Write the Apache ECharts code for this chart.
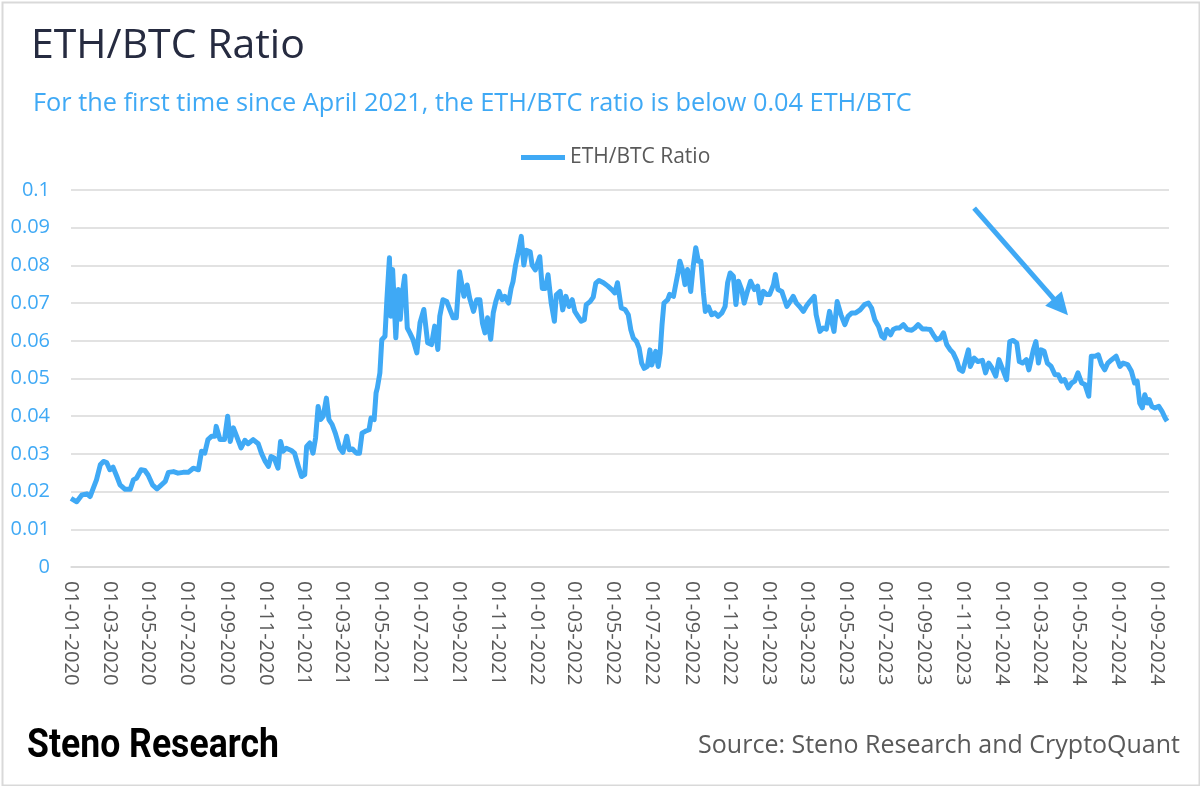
<!DOCTYPE html>
<html>
<head>
<meta charset="utf-8">
<script src="https://cdn.jsdelivr.net/npm/echarts@6/dist/echarts.min.js"></script>
<style>
  html, body { margin: 0; padding: 0; background: #ffffff; }
  #chart { width: 1200px; height: 786px; }
</style>
</head>
<body>
<div id="chart"></div>
<script>
// ---- data (day offset from 01-01-2020, ETH/BTC ratio) ----
const startDate = '2020-01-01';
const seriesName = 'ETH/BTC Ratio';
const ratioPoints = [
  [0,0.0182],[9,0.0173],[17,0.0191],[25,0.0194],[30,0.0187],[35,0.0209],[40,0.0231],[46,0.0271],[51,0.0280],[56,0.0277],
  [61,0.0258],[66,0.0265],[72,0.0240],[77,0.0218],[85,0.0206],[93,0.0206],[98,0.0231],[103,0.0236],[110,0.0258],[116,0.0256],
  [121,0.0244],[128,0.0218],[135,0.0207],[142,0.0218],[148,0.0227],[153,0.0251],[161,0.0253],[168,0.0249],[176,0.0251],[184,0.0251],
  [192,0.0262],[200,0.0258],[205,0.0307],[210,0.0302],[215,0.0338],[221,0.0347],[226,0.0347],[228,0.0373],[234,0.0338],[241,0.0338],
  [246,0.0400],[250,0.0333],[255,0.0369],[260,0.0347],[267,0.0316],[273,0.0336],
  [278,0.0327],[286,0.0338],[294,0.0327],[299,0.0302],[305,0.0280],[310,0.0267],[314,0.0293],[319,0.0289],[325,0.0262],[329,0.0333],
  [333,0.0307],[338,0.0315],[346,0.0309],[351,0.0302],[357,0.0267],[362,0.0240],[367,0.0245],[370,0.0320],[375,0.0329],[380,0.0302],
  [384,0.0342],[388,0.0426],[392,0.0391],[396,0.0400],[401,0.0448],[405,0.0391],[410,0.0378],[415,0.0355],[422,0.0315],[427,0.0304],
  [433,0.0347],[437,0.0311],[442,0.0313],[448,0.0302],[453,0.0302],[457,0.0355],[462,0.0360],[468,0.0364],[471,0.0395],[476,0.0391],
  [479,0.0462],[481,0.0475],[485,0.0515],[488,0.0603],[493,0.0612],[496,0.0710],[500,0.0820],[502,0.0665],[505,0.0789],[508,0.0683],
  [510,0.0608],[514,0.0736],[517,0.0657],[520,0.0723],[524,0.0772],[528,0.0634],[532,0.0621],[537,0.0603],[543,0.0568],[548,0.0648],
  [554,0.0683],
  [560,0.0595],[566,0.0590],[571,0.0639],[576,0.0577],[579,0.0665],[584,0.0709],[590,0.0704],[595,0.0682],[600,0.0661],[605,0.0661],
  [610,0.0783],[613,0.0779],[617,0.0718],[622,0.0748],[626,0.0713],[632,0.0678],[637,0.0709],[642,0.0709],[646,0.0647],[650,0.0621],
  [654,0.0661],[659,0.0604],[663,0.0674],[667,0.0704],[672,0.0731],[677,0.0709],[681,0.0718],[687,0.0700],[691,0.0739],[694,0.0757],
  [698,0.0801],[702,0.0832],[707,0.0877],[711,0.0801],[715,0.0840],[721,0.0836],[724,0.0801],[729,0.0788],[736,0.0823],[740,0.0739],
  [745,0.0739],[749,0.0775],[754,0.0700],[759,0.0652],[762,0.0722],[768,0.0731],[772,0.0682],[777,0.0718],[782,0.0691],[787,0.0709],
  [791,0.0678],[796,0.0665],[801,0.0652],[806,0.0656],[809,0.0696],[815,0.0704],[820,0.0716],[824,0.0753],[829,0.0760],[836,0.0754],
  [843,0.0745],[849,0.0736],[854,0.0727],[858,0.0754],[861,0.0755],[864,0.0687],[870,0.0683],[875,0.0669],[879,0.0629],[883,0.0607],
  [888,0.0598],[892,0.0581],[896,0.0541],[900,0.0527],[905,0.0532],[909,0.0576],[912,0.0536],[918,0.0572],[922,0.0532],[925,0.0567],
  [928,0.0643],[931,0.0700],[937,0.0709],[940,0.0723],[946,0.0718],[949,0.0745],[953,0.0780],[956,0.0811],[960,0.0789],[964,0.0749],
  [968,0.0789],[973,0.0731],[977,0.0798],[981,0.0847],[985,0.0811],[989,0.0811],[993,0.0727],[996,0.0678],[1001,0.0690],[1006,0.0669],
  [1011,0.0674],[1016,0.0665],[1022,0.0674],[1027,0.0691],[1031,0.0754],[1035,0.0780],[1040,0.0771],[1044,0.0696],[1048,0.0758],[1053,0.0736],
  [1057,0.0700],[1062,0.0731],[1067,0.0758],[1073,0.0736],[1078,0.0745],[1082,0.0700],[1087,0.0731],[1092,0.0723],[1097,0.0723],[1103,0.0749],
  [1106,0.0776],[1110,0.0736],[1116,0.0731],
  [1124,0.0691],[1129,0.0704],[1134,0.0718],[1139,0.0700],[1144,0.0691],[1150,0.0678],[1155,0.0693],[1160,0.0704],[1167,0.0718],[1170,0.0669],
  [1176,0.0625],[1181,0.0634],[1186,0.0631],[1191,0.0678],[1198,0.0625],[1203,0.0704],[1209,0.0669],[1215,0.0643],[1220,0.0665],[1226,0.0674],
  [1232,0.0674],[1239,0.0682],[1246,0.0696],[1252,0.0700],[1257,0.0687],[1262,0.0656],[1268,0.0638],[1273,0.0612],[1277,0.0607],[1281,0.0630],
  [1287,0.0616],[1291,0.0630],[1296,0.0634],[1301,0.0634],[1307,0.0643],[1313,0.0630],[1320,0.0628],[1325,0.0634],[1330,0.0643],[1337,0.0631],
  [1344,0.0631],[1349,0.0630],[1354,0.0616],[1359,0.0603],[1365,0.0607],[1370,0.0621],[1375,0.0590],[1380,0.0577],[1385,0.0568],[1391,0.0546],
  [1395,0.0524],[1400,0.0519],
  [1409,0.0576],[1412,0.0532],[1418,0.0554],[1424,0.0545],[1431,0.0548],[1436,0.0515],[1441,0.0541],[1446,0.0528],[1452,0.0506],[1457,0.0550],
  [1462,0.0528],[1469,0.0497],[1474,0.0598],[1479,0.0601],[1485,0.0594],[1489,0.0545],[1494,0.0541],[1500,0.0550],[1504,0.0523],[1511,0.0576],
  [1515,0.0598],[1519,0.0541],[1523,0.0576],[1528,0.0572],[1533,0.0541],[1539,0.0532],[1545,0.0510],[1550,0.0510],[1555,0.0493],[1560,0.0497],
  [1566,0.0475],[1571,0.0488],[1576,0.0493],[1581,0.0515],[1587,0.0488],[1592,0.0484],[1598,0.0453],[1602,0.0559],[1608,0.0559],[1613,0.0563],
  [1618,0.0537],[1623,0.0523],[1628,0.0541],[1634,0.0550],[1641,0.0559],[1647,0.0532],[1652,0.0541],[1659,0.0537],[1665,0.0519],[1670,0.0488],
  [1674,0.0493],[1678,0.0435],[1682,0.0422],[1686,0.0457],[1690,0.0435],[1693,0.0444],[1697,0.0426],[1702,0.0422],[1708,0.0426],[1713,0.0413],
  [1718,0.0395],[1721,0.0387]
];
const xTickLabels = [
  '01-01-2020','01-03-2020','01-05-2020','01-07-2020','01-09-2020','01-11-2020',
  '01-01-2021','01-03-2021','01-05-2021','01-07-2021','01-09-2021','01-11-2021',
  '01-01-2022','01-03-2022','01-05-2022','01-07-2022','01-09-2022','01-11-2022',
  '01-01-2023','01-03-2023','01-05-2023','01-07-2023','01-09-2023','01-11-2023',
  '01-01-2024','01-03-2024','01-05-2024','01-07-2024','01-09-2024'
];
const xAxisEndDay = 1724;
// arrow annotation: [day, value] start and end
const arrowStart = [1418, 0.0952];
const arrowEnd = [1554, 0.0690];

// ---- build ----
const DAY = 86400000;
const t0 = Date.parse(startDate + 'T00:00:00Z');
function labelToDay(s) {
  const p = s.split('-');
  return Math.round((Date.UTC(+p[2], +p[1] - 1, +p[0]) - t0) / DAY);
}
const tickDays = xTickLabels.map(labelToDay);
const dayToLabel = {};
tickDays.forEach((d, i) => { dayToLabel[d] = xTickLabels[i]; });

const BLUE = '#3fa9f5';
const GREY = '#595959';
const FONT = 'Open Sans';

const chart = echarts.init(document.getElementById('chart'), null, { renderer: 'canvas' });
chart.setOption({
  backgroundColor: '#ffffff',
  animation: false,
  textStyle: { fontFamily: FONT },
  title: [
    { text: 'ETH/BTC Ratio', left: 26, top: 21,
      textStyle: { fontFamily: FONT, fontSize: 41, fontWeight: 'normal', color: '#262b40' } },
    { text: 'For the first time since April 2021, the ETH/BTC ratio is below 0.04 ETH/BTC', left: 28, top: 86,
      textStyle: { fontFamily: FONT, fontSize: 25.3, fontWeight: 'normal', color: BLUE } }
  ],
  legend: {
    left: 516, top: 142,
    icon: 'rect', itemWidth: 44, itemHeight: 5, itemGap: 8,
    textStyle: { fontFamily: FONT, fontSize: 21, color: GREY },
    data: [seriesName]
  },
  grid: { left: 71, right: 31, top: 190, bottom: 786 - 567, containLabel: false },
  xAxis: {
    type: 'value', min: 0, max: xAxisEndDay,
    splitLine: { show: false },
    axisTick: { show: false },
    axisLine: { show: true, lineStyle: { color: '#d9d9d9', width: 1.5 } },
    axisLabel: {
      customValues: tickDays,
      rotate: -90, margin: 14,
      fontFamily: FONT, fontSize: 20, color: GREY,
      formatter: v => dayToLabel[Math.round(v)] || ''
    }
  },
  yAxis: {
    type: 'value', min: 0, max: 0.1, interval: 0.01,
    axisLine: { show: false }, axisTick: { show: false },
    splitLine: { lineStyle: { color: '#d9d9d9', width: 1.5 } },
    axisLabel: {
      margin: 21, fontFamily: FONT, fontSize: 20, color: BLUE,
      formatter: v => String(parseFloat(v.toFixed(2)))
    }
  },
  series: [{
    name: seriesName, type: 'line', data: ratioPoints,
    showSymbol: false, symbol: 'none',
    lineStyle: { color: BLUE, width: 5, join: 'round' },
    itemStyle: { color: BLUE },
    markLine: {
      silent: true, animation: false,
      symbol: ['none', 'triangle'], symbolSize: 22,
      label: { show: false },
      lineStyle: { color: BLUE, width: 5, type: 'solid' },
      itemStyle: { color: BLUE },
      emphasis: { disabled: true },
      data: [[{ coord: arrowStart }, { coord: arrowEnd }]]
    }
  }],
  graphic: [
    { type: 'rect', left: 0, top: 0, silent: true,
      shape: { x: 1, y: 1, width: 1197, height: 783 },
      style: { fill: 'none', stroke: '#d9d9d9', lineWidth: 2 } },
    { type: 'text', left: 27, top: 727, silent: true, scaleX: 0.89,
      style: { text: 'Steno Research', font: 'bold 40px Roboto', fill: '#000000' } },
    { type: 'text', right: 20, top: 733, silent: true,
      style: { text: 'Source: Steno Research and CryptoQuant', font: '25px "Open Sans"', fill: GREY } }
  ]
});
</script>
</body>
</html>
